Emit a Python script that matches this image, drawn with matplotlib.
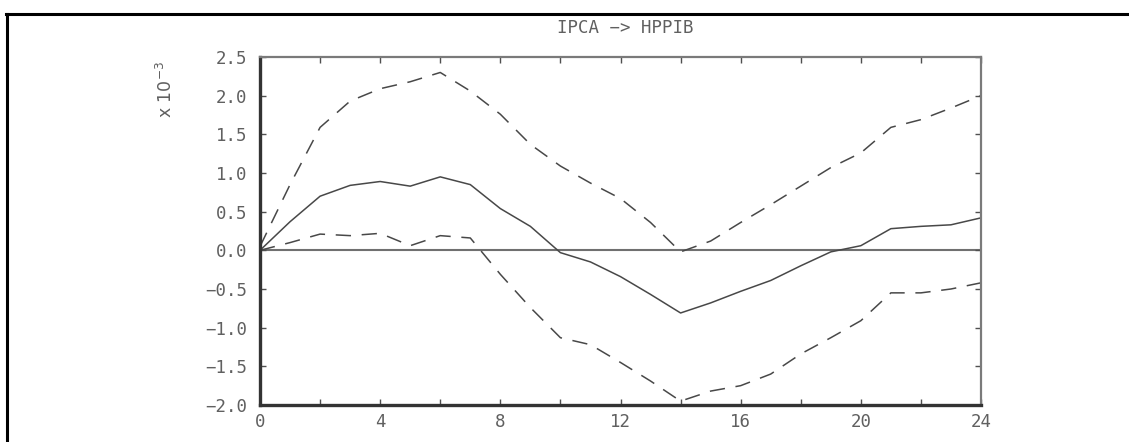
"""Impulse response of HPPIB to an IPCA shock, with confidence band."""

import matplotlib
matplotlib.use("Agg")
import matplotlib.pyplot as plt
from matplotlib.lines import Line2D
from matplotlib.ticker import FuncFormatter, MultipleLocator

# horizons and responses (units of 1e-3)
horizon = list(range(25))
response = [0.00, 0.37, 0.70, 0.84, 0.89, 0.83, 0.95, 0.85, 0.54, 0.31, -0.03,
            -0.15, -0.34, -0.57, -0.81, -0.68, -0.53, -0.39, -0.20, -0.02,
            0.06, 0.28, 0.31, 0.33, 0.42]
upper = [0.05, 0.85, 1.59, 1.93, 2.09, 2.18, 2.30, 2.06, 1.76, 1.37, 1.09,
         0.87, 0.67, 0.36, -0.02, 0.12, 0.36, 0.59, 0.83, 1.07, 1.26, 1.59,
         1.69, 1.84, 2.00]
lower = [0.00, 0.10, 0.21, 0.19, 0.22, 0.06, 0.19, 0.16, -0.31, -0.74, -1.13,
         -1.22, -1.45, -1.69, -1.95, -1.82, -1.75, -1.60, -1.34, -1.13, -0.91,
         -0.55, -0.55, -0.50, -0.42]

title = "IPCA \u2212> HPPIB"
scale_label = "x 10$^{-3}$"

FONT = "DejaVu Sans Mono"
TEXT_GREY = "#606060"
LINE_GREY = "#484848"

fig = plt.figure(figsize=(11.29, 4.42), dpi=100)
ax = fig.add_axes([260 / 1129, 37 / 442, 721 / 1129, 348 / 442])

ax.axhline(0, color="#707070", lw=1.5, zorder=1)
ax.plot(horizon, response, color=LINE_GREY, lw=1.1)
for band in (upper, lower):
    ax.plot(horizon, band, color=LINE_GREY, lw=1.1, dashes=(10, 7))

ax.set_xlim(0, 24)
ax.set_ylim(-2.0, 2.5)
ax.xaxis.set_major_locator(MultipleLocator(4))
ax.xaxis.set_minor_locator(MultipleLocator(2))
ax.yaxis.set_major_locator(MultipleLocator(0.5))
ax.xaxis.set_major_formatter(FuncFormatter(lambda v, _: f"{v:.0f}"))
ax.yaxis.set_major_formatter(
    FuncFormatter(lambda v, _: f"{v:.1f}".replace("-", "\u2212")))

ax.tick_params(which="both", direction="in", top=True, right=True,
               length=4, width=1, color="#505050")
ax.tick_params(axis="both", labelsize=12.5, labelcolor=TEXT_GREY)
ax.tick_params(axis="x", pad=6)
ax.tick_params(axis="y", pad=9)
for lab in ax.get_xticklabels() + ax.get_yticklabels():
    lab.set_fontfamily(FONT)

for side in ("left", "bottom"):
    ax.spines[side].set_linewidth(2.4)
    ax.spines[side].set_color("#333333")
for side in ("top", "right"):
    ax.spines[side].set_linewidth(1.6)
    ax.spines[side].set_color("#7a7a7a")

fig.text(625 / 1129, 1 - 28 / 442, title, ha="center", va="center",
         fontsize=12.5, color=TEXT_GREY, family=FONT)
fig.text(166 / 1129, 1 - 89 / 442, scale_label, ha="center", va="center",
         rotation=90, fontsize=12.5, color=TEXT_GREY)

# page frame along the top and left edges
fig.add_artist(Line2D([6 / 1129, 1], [1 - 13.5 / 442] * 2,
                      transform=fig.transFigure, color="black", lw=2.2))
fig.add_artist(Line2D([7 / 1129] * 2, [0, 1 - 13.5 / 442],
                      transform=fig.transFigure, color="black", lw=2.2))

fig.savefig("out.png", dpi=100)
